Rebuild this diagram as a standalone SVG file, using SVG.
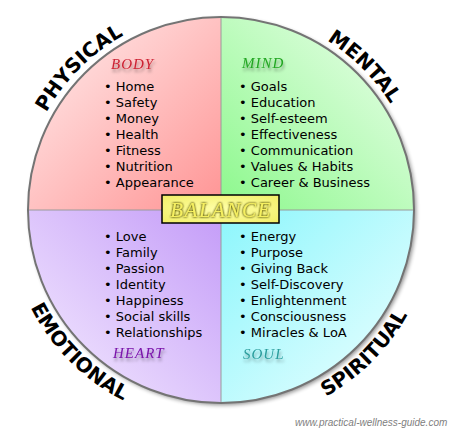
<svg xmlns="http://www.w3.org/2000/svg" width="452" height="430" viewBox="0 0 452 430">
<defs>
<linearGradient id="gTL" x1="0" y1="0" x2="1" y2="1"><stop offset="0" stop-color="#fff0f0"/><stop offset="1" stop-color="#ff9494"/></linearGradient>
<linearGradient id="gTR" x1="1" y1="0" x2="0" y2="1"><stop offset="0" stop-color="#f0fff0"/><stop offset="1" stop-color="#8cf88c"/></linearGradient>
<linearGradient id="gBL" x1="0" y1="1" x2="1" y2="0"><stop offset="0" stop-color="#f6eeff"/><stop offset="1" stop-color="#c49cf8"/></linearGradient>
<linearGradient id="gBR" x1="1" y1="1" x2="0" y2="0"><stop offset="0" stop-color="#f0ffff"/><stop offset="1" stop-color="#8cf6fc"/></linearGradient>
<radialGradient id="gBal" cx="0.5" cy="0.5" r="0.7"><stop offset="0" stop-color="#ffffa8"/><stop offset="1" stop-color="#f2ee66"/></radialGradient>
<filter id="shadow" x="-20%" y="-20%" width="140%" height="140%"><feGaussianBlur stdDeviation="2"/></filter>
<filter id="hshadow" x="-10%" y="-5%" width="125%" height="135%">
<feGaussianBlur in="SourceAlpha" stdDeviation="1.4"/><feOffset dx="1" dy="3" result="b"/>
<feFlood flood-color="#000" flood-opacity="0.35"/><feComposite in2="b" operator="in" result="s"/>
<feMerge><feMergeNode in="s"/><feMergeNode in="SourceGraphic"/></feMerge></filter>
<filter id="glow" x="-10%" y="-20%" width="120%" height="140%">
<feGaussianBlur in="SourceAlpha" stdDeviation="1.1" result="b"/>
<feFlood flood-color="#5e5a00" flood-opacity="1"/><feComposite in2="b" operator="in" result="s"/>
<feMerge><feMergeNode in="s"/><feMergeNode in="s"/><feMergeNode in="SourceGraphic"/></feMerge></filter>
<path id="pPhys" d="M21.8,192.6 A200,200 0 0 1 203.6,10.8"/>
<path id="pMent" d="M238.4,10.8 A200,200 0 0 1 420.2,192.6"/>
<path id="pEmo" d="M7.8,228.7 A214,214 0 0 0 202.3,423.2"/>
<path id="pSpir" d="M239.7,423.2 A214,214 0 0 0 434.2,228.7"/>
</defs>
<style>
.item{font-family:"DejaVu Sans",Verdana,sans-serif;font-size:13px;fill:#000}
.hdr{font-family:"Liberation Serif",serif;font-style:italic;font-size:15px;letter-spacing:1px}
.lbl{font-family:"DejaVu Sans",Verdana,sans-serif;font-weight:bold;font-size:20px;fill:#000}
.div{stroke:#9a9a9a;stroke-width:1}
</style>
<circle cx="223" cy="212" r="193" fill="#000" opacity="0.45" filter="url(#shadow)"/>
<g id="physical">
<path d="M221,210 L28,210 A193,193 0 0 1 221,17 Z" fill="url(#gTL)"/>
<text class="hdr" x="111" y="69" fill="#cc2233" filter="url(#hshadow)">BODY</text>
<text class="item" x="104" y="91">• Home</text>
<text class="item" x="104" y="107">• Safety</text>
<text class="item" x="104" y="123">• Money</text>
<text class="item" x="104" y="139">• Health</text>
<text class="item" x="104" y="155">• Fitness</text>
<text class="item" x="104" y="171">• Nutrition</text>
<text class="item" x="104" y="187">• Appearance</text>
<text class="lbl"><textPath href="#pPhys" startOffset="50%" text-anchor="middle">PHYSICAL</textPath></text>
</g>
<g id="mental">
<path d="M221,210 L221,17 A193,193 0 0 1 414,210 Z" fill="url(#gTR)"/>
<text class="hdr" x="242" y="68" fill="#22a622" filter="url(#hshadow)">MIND</text>
<text class="item" x="239" y="91">• Goals</text>
<text class="item" x="239" y="107">• Education</text>
<text class="item" x="239" y="123">• Self-esteem</text>
<text class="item" x="239" y="139">• Effectiveness</text>
<text class="item" x="239" y="155">• Communication</text>
<text class="item" x="239" y="171">• Values &amp; Habits</text>
<text class="item" x="239" y="187">• Career &amp; Business</text>
<text class="lbl"><textPath href="#pMent" startOffset="50%" text-anchor="middle">MENTAL</textPath></text>
</g>
<g id="emotional">
<path d="M221,210 L221,403 A193,193 0 0 1 28,210 Z" fill="url(#gBL)"/>
<text class="item" x="104" y="241">• Love</text>
<text class="item" x="104" y="257">• Family</text>
<text class="item" x="104" y="273">• Passion</text>
<text class="item" x="104" y="289">• Identity</text>
<text class="item" x="104" y="305">• Happiness</text>
<text class="item" x="104" y="321">• Social skills</text>
<text class="item" x="104" y="337">• Relationships</text>
<text class="hdr" x="113" y="358" fill="#7a14aa" filter="url(#hshadow)">HEART</text>
<text class="lbl"><textPath href="#pEmo" startOffset="50%" text-anchor="middle">EMOTIONAL</textPath></text>
</g>
<g id="spiritual">
<path d="M221,210 L414,210 A193,193 0 0 1 221,403 Z" fill="url(#gBR)"/>
<text class="item" x="239" y="241">• Energy</text>
<text class="item" x="239" y="257">• Purpose</text>
<text class="item" x="239" y="273">• Giving Back</text>
<text class="item" x="239" y="289">• Self-Discovery</text>
<text class="item" x="239" y="305">• Enlightenment</text>
<text class="item" x="239" y="321">• Consciousness</text>
<text class="item" x="239" y="337">• Miracles &amp; LoA</text>
<text class="hdr" x="243" y="359" fill="#2a9c9c" filter="url(#hshadow)">SOUL</text>
<text class="lbl"><textPath href="#pSpir" startOffset="50%" text-anchor="middle">SPIRITUAL</textPath></text>
</g>
<g id="connectors">
<line class="div" x1="221" y1="17" x2="221" y2="403"/>
<line class="div" x1="28" y1="210" x2="414" y2="210"/>
<circle cx="221" cy="210" r="193" fill="none" stroke="#747474" stroke-width="2"/>
</g>
<g id="balance">
<rect x="162" y="195" width="117" height="28" fill="url(#gBal)" stroke="#000" stroke-width="1.5"/>
<text x="221" y="217" text-anchor="middle" font-family="Liberation Serif, serif" font-style="italic" font-size="21" letter-spacing="1.5" fill="#f6f060" filter="url(#glow)">BALANCE</text>
</g>
<text x="295" y="426" font-family="Liberation Sans, sans-serif" font-style="italic" font-size="10" fill="#808080">www.practical-wellness-guide.com</text>
</svg>
